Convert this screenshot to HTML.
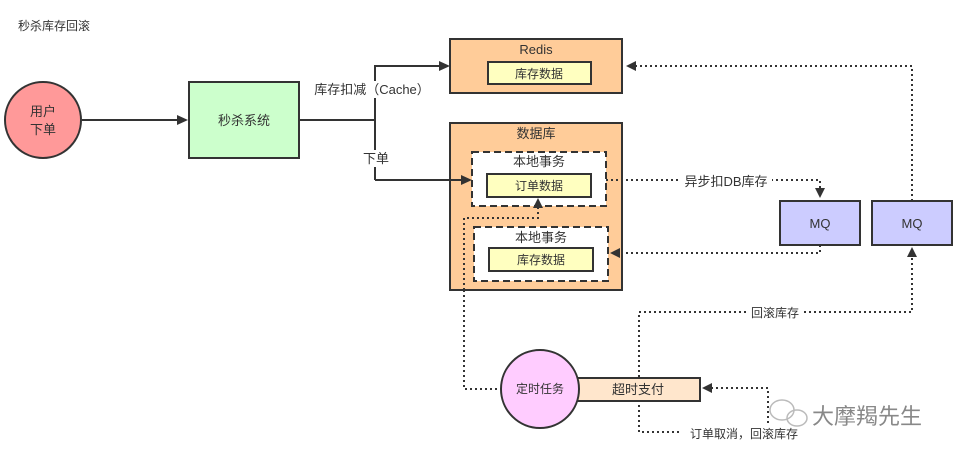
<!DOCTYPE html>
<html><head><meta charset="utf-8"><style>
body{margin:0;background:#fff}
svg text{font-family:"Liberation Sans","Noto Sans CJK SC",sans-serif;fill:#333}
</style></head><body>
<svg width="964" height="458" viewBox="0 0 964 458" xmlns="http://www.w3.org/2000/svg">
<text x="18" y="30" font-size="12">秒杀库存回滚</text>
<circle cx="43" cy="120" r="38" fill="#ff9999" stroke="#333" stroke-width="2"/>
<text x="43" y="116" font-size="13" text-anchor="middle">用户</text>
<text x="43" y="134" font-size="13" text-anchor="middle">下单</text>
<rect x="189" y="82" width="110" height="76" fill="#ccffcc" stroke="#333" stroke-width="2"/>
<text x="244" y="125" font-size="13" text-anchor="middle">秒杀系统</text>
<rect x="450" y="39" width="172" height="54" fill="#ffcc99" stroke="#333" stroke-width="2"/>
<text x="536" y="54" font-size="13" text-anchor="middle">Redis</text>
<rect x="488" y="62" width="103" height="22" fill="#ffffc0" stroke="#333" stroke-width="2"/>
<text x="539" y="78" font-size="12" text-anchor="middle">库存数据</text>
<rect x="450" y="123" width="172" height="167" fill="#ffcc99" stroke="#333" stroke-width="2"/>
<text x="536" y="138" font-size="13" text-anchor="middle">数据库</text>
<rect x="472" y="152" width="134" height="54" fill="#fff" stroke="#333" stroke-width="2" stroke-dasharray="7,4"/>
<text x="539" y="166" font-size="13" text-anchor="middle">本地事务</text>
<rect x="487" y="174" width="104" height="23" fill="#ffffc0" stroke="#333" stroke-width="2"/>
<text x="539" y="190" font-size="12" text-anchor="middle">订单数据</text>
<rect x="474" y="227" width="134" height="54" fill="#fff" stroke="#333" stroke-width="2" stroke-dasharray="7,4"/>
<text x="541" y="242" font-size="13" text-anchor="middle">本地事务</text>
<rect x="489" y="248" width="104" height="23" fill="#ffffc0" stroke="#333" stroke-width="2"/>
<text x="541" y="264" font-size="12" text-anchor="middle">库存数据</text>
<rect x="780" y="201" width="80" height="44" fill="#ccccff" stroke="#333" stroke-width="2"/>
<text x="820" y="228" font-size="13" text-anchor="middle">MQ</text>
<rect x="872" y="201" width="80" height="44" fill="#ccccff" stroke="#333" stroke-width="2"/>
<text x="912" y="228" font-size="13" text-anchor="middle">MQ</text>

<path d="M82,120H178M299,120H375M375,180V66H440M375,180H462" fill="none" stroke="#333" stroke-width="2"/>
<path d="M177,115L188,120L177,125z" fill="#333"/>
<path d="M439,61L450,66L439,71z" fill="#333"/>
<path d="M461,175L472,180L461,185z" fill="#333"/>
<g fill="none" stroke="#333" stroke-width="2" stroke-dasharray="2,3">
<path d="M606,180H820V190"/>
<path d="M820,245V253H618"/>
<path d="M912,201V66H634"/>
<path d="M912,258V312H639V432H768V388H712"/>
<path d="M464,290V389H500M464,290V218H538V208"/>
</g>
<path d="M815,188L820,198L825,188z" fill="#333"/>
<path d="M620,248L610,253L620,258z" fill="#333"/>
<path d="M636,61L626,66L636,71z" fill="#333"/>
<path d="M907,257L912,247L917,257z" fill="#333"/>
<path d="M533,208L538,198L543,208z" fill="#333"/>
<path d="M712,383L702,388L712,393z" fill="#333"/>
<rect x="310" y="81" width="124" height="17" fill="#fff"/>
<text x="372" y="94" font-size="13" text-anchor="middle">库存扣减（Cache）</text>
<rect x="360" y="150" width="32" height="17" fill="#fff"/>
<text x="376" y="163" font-size="13" text-anchor="middle">下单</text>
<rect x="680" y="174" width="92" height="16" fill="#fff"/>
<text x="726" y="186" font-size="13" text-anchor="middle">异步扣DB库存</text>
<rect x="747" y="305" width="56" height="16" fill="#fff"/>
<text x="775" y="317" font-size="12" text-anchor="middle">回滚库存</text>
<rect x="680" y="426" width="128" height="16" fill="#fff"/>
<text x="744" y="438" font-size="12" text-anchor="middle">订单取消，回滚库存</text>
<rect x="577" y="378" width="123" height="23" fill="#ffe6cc" stroke="#333" stroke-width="2"/>
<text x="638" y="394" font-size="13" text-anchor="middle">超时支付</text>
<circle cx="540" cy="389" r="39" fill="#ffccff" stroke="#333" stroke-width="2"/>
<text x="540" y="393" font-size="12" text-anchor="middle">定时任务</text>
<g fill="none" stroke="#bbb" stroke-width="1.5"><ellipse cx="782" cy="410" rx="12" ry="10"/><ellipse cx="797" cy="418" rx="10" ry="8"/></g>
<text x="812" y="424" font-size="22" style="fill:#888">大摩羯先生</text>
</svg>
</body></html>
